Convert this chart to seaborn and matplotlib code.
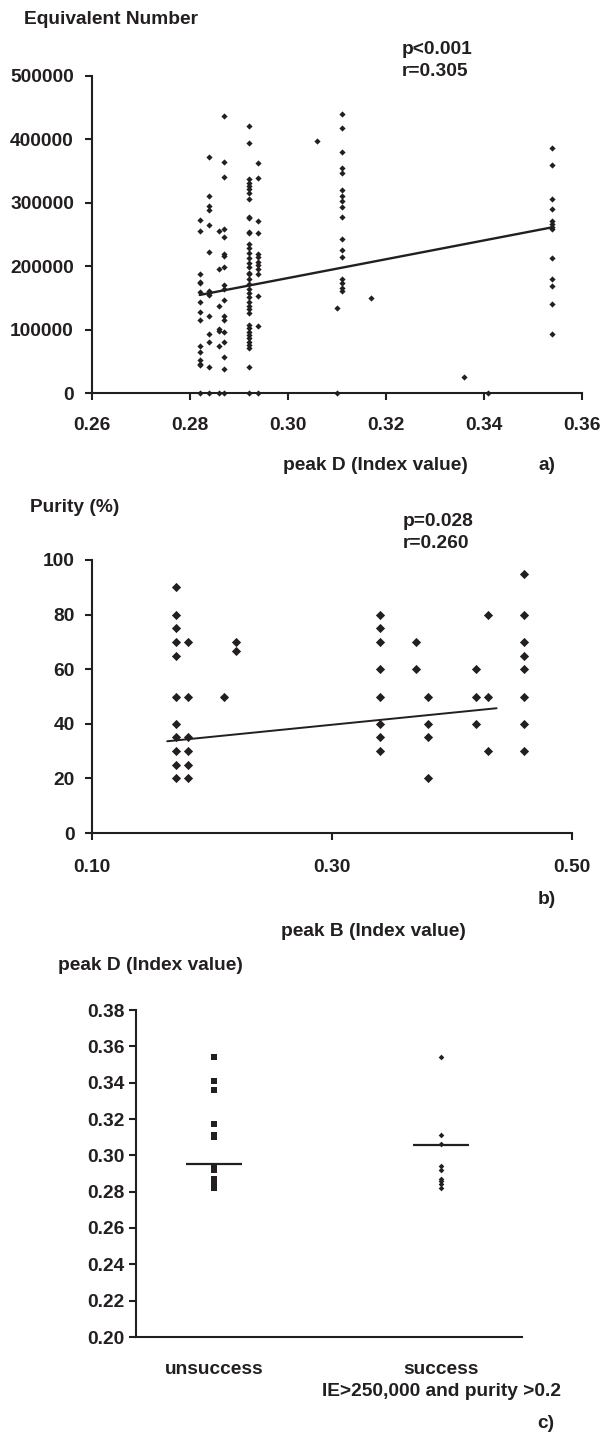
import numpy as np
import pandas as pd
import matplotlib
matplotlib.use("Agg")
import matplotlib.pyplot as plt
from matplotlib.ticker import FormatStrFormatter
import seaborn as sns

# ---- panel a: peak D vs equivalent number (one list per column of points)
a_cols = [0.282, 0.284, 0.286, 0.287, 0.292, 0.294, 0.306, 0.310, 0.311,
          0.317, 0.336, 0.341, 0.354]
a_vals = [
    [273500, 255200, 187200, 175200, 173100, 159500, 143800, 127100, 115600,
     74800, 64300, 52800, 46500, 43400, 0],
    [372900, 310100, 294500, 288200, 265700, 222300, 161100, 157400, 154300,
     120800, 92600, 80000, 40800, 0],
    [256300, 196100, 137600, 100900, 97800, 74800, 0],
    [436700, 364000, 340000, 259400, 246300, 218600, 216000, 198700, 170000,
     164700, 147000, 121900, 115600, 96800, 81100, 56000, 38200, 0],
    [421100, 394800, 337000, 331700, 326500, 321300, 315000, 305500, 277100,
     275500, 254400, 251900, 234500, 229200, 221300, 212400, 205500, 198200,
     189800, 187200, 179300, 171900, 163600, 157300, 150900, 144000, 137200,
     132000, 125700, 107300, 102100, 96800, 91500, 86300, 80900, 75700,
     70500, 40500, 0],
    [362300, 339600, 271300, 251900, 219200, 214000, 207100, 201900, 195100,
     187700, 153000, 105700, 0],
    [398000],
    [134600, 0],
    [440000, 418500, 380600, 354400, 346500, 320200, 310700, 303300, 292900,
     278100, 242400, 225600, 214000, 179300, 173000, 165100, 161400],
    [150300],
    [25700],
    [0],
    [386000, 359600, 306000, 289700, 271800, 266600, 262300, 258200, 213400,
     179800, 169200, 140400, 93100],
]
a_trend_x = [0.282, 0.354]
a_trend_y = [154600, 261300]

# ---- panel b: peak B vs purity
b_cols = [0.17, 0.18, 0.21, 0.22, 0.34, 0.37, 0.38, 0.42, 0.43, 0.46]
b_vals = [
    [90, 80, 75, 70, 65, 50, 40, 35, 30, 25, 20],
    [70, 50, 35, 30, 25, 20],
    [50],
    [70, 66.5],
    [80, 75, 70, 60, 50, 40, 35, 30],
    [70, 60],
    [50, 40, 35, 20],
    [60, 50, 40],
    [80, 50, 30],
    [95, 80, 70, 65, 60, 50, 40, 30],
]
b_trend_x = [0.163, 0.437]
b_trend_y = [33.6, 45.7]

# ---- panel c: peak D by outcome
groups = ["unsuccess", "success"]
c_unsuccess = [0.282, 0.283, 0.284, 0.286, 0.287, 0.292, 0.293, 0.294,
               0.310, 0.311, 0.317, 0.336, 0.341, 0.354]
c_success = [0.282, 0.284, 0.286, 0.287, 0.292, 0.294, 0.306, 0.311, 0.354]
c_median = [0.295, 0.3055]
c_labels = ["unsuccess", "success\nIE>250,000 and purity >0.2"]

df_a = pd.DataFrame({
    "peak_d": np.repeat(a_cols, [len(v) for v in a_vals]),
    "equiv": np.concatenate(a_vals),
})
df_b = pd.DataFrame({
    "peak_b": np.repeat(b_cols, [len(v) for v in b_vals]),
    "purity": np.concatenate(b_vals),
})
df_c = pd.DataFrame({
    "group": ["unsuccess"] * len(c_unsuccess) + ["success"] * len(c_success),
    "peak_d": c_unsuccess + c_success,
})

ink = "#231f20"
FS = 13.8
sns.set_style("ticks")
plt.rcParams["font.family"] = ["Liberation Sans", "DejaVu Sans"]
plt.rcParams["font.weight"] = "bold"
plt.rcParams["font.size"] = FS
for k in ["text.color", "axes.labelcolor", "xtick.color", "ytick.color",
          "axes.edgecolor"]:
    plt.rcParams[k] = ink
plt.rcParams["axes.linewidth"] = 1.5

W, H = 601, 1434
fig = plt.figure(figsize=(W / 100, H / 100), dpi=100)


def box(l, t, r, b):
    return [l / W, 1 - b / H, (r - l) / W, (b - t) / H]


def put(x, y, s, ha="left"):
    fig.text(x / W, 1 - y / H, s, ha=ha, va="center", fontsize=FS,
             fontweight="bold")


def style_ticks(ax, xpad, ypad):
    ax.tick_params(axis="both", direction="out", length=5, width=1.5,
                   labelsize=FS)
    ax.tick_params(axis="x", pad=xpad)
    ax.tick_params(axis="y", pad=ypad)
    for lab in ax.get_xticklabels() + ax.get_yticklabels():
        lab.set_fontweight("bold")


# panel a
ax_a = fig.add_axes(box(92, 76, 581.5, 393))
sns.scatterplot(data=df_a, x="peak_d", y="equiv", marker="D", s=10,
                color=ink, linewidth=0, ax=ax_a, clip_on=False, zorder=3)
sns.lineplot(x=a_trend_x, y=a_trend_y, color=ink, lw=1.7, ax=ax_a)
ax_a.set_xlim(0.26, 0.36)
ax_a.set_ylim(0, 500000)
ax_a.set_xticks(np.arange(0.26, 0.3601, 0.02))
ax_a.set_yticks(np.arange(0, 500001, 100000))
ax_a.xaxis.set_major_formatter(FormatStrFormatter("%.2f"))
ax_a.yaxis.set_major_formatter(FormatStrFormatter("%d"))
ax_a.set_xlabel("")
ax_a.set_ylabel("")
sns.despine(ax=ax_a)
style_ticks(ax_a, 12, 8)

put(24, 19, "Equivalent Number")
put(402, 50, "p<0.001")
put(402, 72, "r=0.305")
put(375, 465, "peak D (Index value)", ha="center")
put(547, 465, "a)", ha="center")

# panel b
ax_b = fig.add_axes(box(91.5, 560, 572.3, 833))
sns.scatterplot(data=df_b, x="peak_b", y="purity", marker="D", s=22,
                color=ink, linewidth=0, ax=ax_b, zorder=3)
sns.lineplot(x=b_trend_x, y=b_trend_y, color=ink, lw=1.4, ax=ax_b)
ax_b.set_xlim(0.10, 0.50)
ax_b.set_ylim(0, 100)
ax_b.set_xticks([0.10, 0.30, 0.50])
ax_b.set_yticks(np.arange(0, 101, 20))
ax_b.xaxis.set_major_formatter(FormatStrFormatter("%.2f"))
ax_b.set_xlabel("")
ax_b.set_ylabel("")
sns.despine(ax=ax_b)
style_ticks(ax_b, 14, 7)

put(30, 508, "Purity (%)")
put(403, 521, "p=0.028")
put(403, 543, "r=0.260")
put(547, 899, "b)", ha="center")
put(373, 931, "peak B (Index value)", ha="center")

# panel c
ax_c = fig.add_axes(box(136, 1010, 522, 1337))
sns.stripplot(data=df_c[df_c["group"] == "unsuccess"], x="group", y="peak_d",
              order=groups, jitter=False, marker="s", size=3.8, color=ink,
              linewidth=0, ax=ax_c)
sns.stripplot(data=df_c[df_c["group"] == "success"], x="group", y="peak_d",
              order=groups, jitter=False, marker="D", size=2.9, color=ink,
              linewidth=0, ax=ax_c)
sns.stripplot(x=groups, y=c_median, order=groups, jitter=False, marker="_",
              size=40, color=ink, edgecolor=ink, linewidth=1.6, ax=ax_c)
ax_c.set_xlim(-0.342, 1.355)
ax_c.set_ylim(0.20, 0.38)
ax_c.set_yticks(np.arange(0.20, 0.3801, 0.02))
ax_c.yaxis.set_major_formatter(FormatStrFormatter("%.2f"))
ax_c.set_xticks([0, 1], labels=c_labels, linespacing=1.45)
ax_c.set_xlabel("")
ax_c.set_ylabel("")
sns.despine(ax=ax_c)
style_ticks(ax_c, 17, 3)
ax_c.tick_params(axis="x", length=0)
ax_c.tick_params(axis="y", length=5)

put(58, 965, "peak D (Index value)")
put(546, 1423, "c)", ha="center")

fig.savefig("out.png", dpi=100)
